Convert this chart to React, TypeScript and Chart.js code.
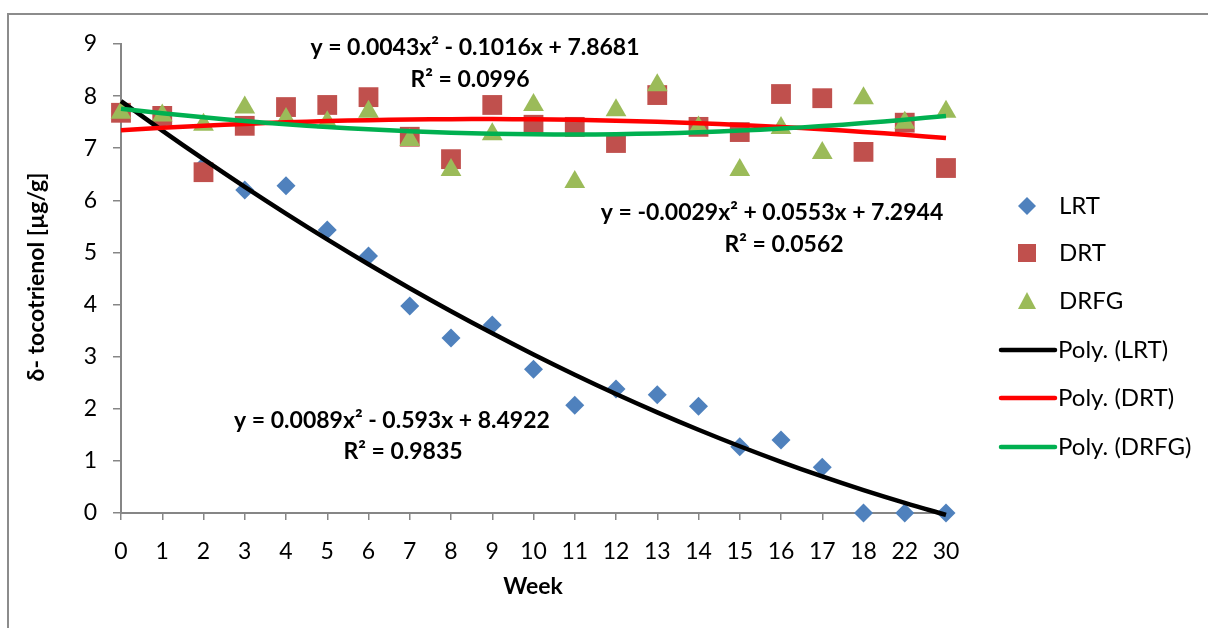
import React, { useEffect, useRef } from "react";
import { Chart, registerables } from "chart.js";

Chart.register(...registerables);

const weeks = ["0", "1", "2", "3", "4", "5", "6", "7", "8", "9", "10", "11", "12", "13", "14", "15", "16", "17", "18", "22", "30"];
const lrt = [7.7, 7.55, 6.66, 6.2, 6.28, 5.43, 4.93, 3.97, 3.36, 3.61, 2.76, 2.07, 2.38, 2.27, 2.05, 1.27, 1.4, 0.88, 0, 0, 0];
const drt = [7.68, 7.62, 6.54, 7.43, 7.79, 7.83, 7.98, 7.22, 6.79, 7.83, 7.45, 7.41, 7.1, 8.02, 7.41, 7.31, 8.04, 7.96, 6.93, 7.49, 6.62];
const drfg = [7.68, 7.63, 7.45, 7.78, 7.56, 7.5, 7.7, 7.16, 6.58, 7.27, 7.83, 6.35, 7.73, 8.21, 7.4, 6.58, 7.39, 6.91, 7.96, 7.49, 7.7];
const yTicks = [0, 1, 2, 3, 4, 5, 6, 7, 8, 9];

const seriesNames = ["LRT", "DRT", "DRFG"];
const trendNames = ["Poly. (LRT)", "Poly. (DRT)", "Poly. (DRFG)"];
const eqLabels = [
  ["y = 0.0089x² - 0.593x + 8.4922", "R² = 0.9835"],
  ["y = -0.0029x² + 0.0553x + 7.2944", "R² = 0.0562"],
  ["y = 0.0043x² - 0.1016x + 7.8681", "R² = 0.0996"],
];

const FONT = "Lato";

// Excel-style quadratic least-squares trendline (x = 1..n)
function quadFit(ys: number[]) {
  let s0 = 0, s1 = 0, s2 = 0, s3 = 0, s4 = 0, t0 = 0, t1 = 0, t2 = 0;
  ys.forEach((y, i) => {
    const x = i + 1;
    s0 += 1; s1 += x; s2 += x * x; s3 += x ** 3; s4 += x ** 4;
    t0 += y; t1 += x * y; t2 += x * x * y;
  });
  const M = [
    [s4, s3, s2, t2],
    [s3, s2, s1, t1],
    [s2, s1, s0, t0],
  ];
  for (let c = 0; c < 3; c++) {
    for (let r = c + 1; r < 3; r++) {
      const f = M[r][c] / M[c][c];
      for (let k = c; k < 4; k++) M[r][k] -= f * M[c][k];
    }
  }
  const sol = [0, 0, 0];
  for (let r = 2; r >= 0; r--) {
    let v = M[r][3];
    for (let k = r + 1; k < 3; k++) v -= M[r][k] * sol[k];
    sol[r] = v / M[r][r];
  }
  const [a, b, c] = sol;
  return ys.map((_, i) => {
    const x = i + 1;
    return { x: i, y: a * x * x + b * x + c };
  });
}

const pts = (ys: number[]) => ys.map((y, i) => ({ x: i, y }));

function drawMarker(ctx: CanvasRenderingContext2D, kind: string, x: number, y: number, color: string) {
  ctx.save();
  ctx.fillStyle = color;
  ctx.beginPath();
  if (kind === "diamond") {
    const r = 9;
    ctx.moveTo(x, y - r); ctx.lineTo(x + r, y); ctx.lineTo(x, y + r); ctx.lineTo(x - r, y);
  } else if (kind === "square") {
    const h = 9;
    ctx.rect(x - h, y - h, 2 * h, 2 * h);
  } else {
    const h = 9;
    ctx.moveTo(x, y - h); ctx.lineTo(x + h, y + h * 0.9); ctx.lineTo(x - h, y + h * 0.9);
  }
  ctx.closePath();
  ctx.fill();
  ctx.restore();
}

const overlayPlugin = {
  id: "overlay",
  beforeDraw(chart: any) {
    const ctx = chart.ctx as CanvasRenderingContext2D;
    ctx.save();
    ctx.fillStyle = "#fff";
    ctx.fillRect(0, 0, chart.width, chart.height);
    ctx.strokeStyle = "#8c8c8c";
    ctx.lineWidth = 2;
    ctx.beginPath();
    ctx.moveTo(8, 628);
    ctx.lineTo(8, 14);
    ctx.lineTo(1208, 14);
    ctx.stroke();
    ctx.restore();
  },
  afterDraw(chart: any) {
    const ctx = chart.ctx as CanvasRenderingContext2D;
    ctx.save();
    ctx.fillStyle = "#000";
    // axis titles
    ctx.font = `bold 23px ${FONT}`;
    ctx.textAlign = "center";
    ctx.textBaseline = "middle";
    ctx.fillText("Week", 533, 587);
    ctx.save();
    ctx.translate(37, 277);
    ctx.rotate(-Math.PI / 2);
    ctx.fillText("δ- tocotrienol [µg/g]", 0, 0);
    ctx.restore();

    // equation labels
    ctx.font = `bold 23px ${FONT}`;
    const eqPos = [
      [[392, 421], [403, 452]],
      [[772, 213], [784, 245]],
      [[475, 48], [470, 80]],
    ];
    eqLabels.forEach((lines, i) => {
      lines.forEach((t, j) => ctx.fillText(t, eqPos[i][j][0], eqPos[i][j][1]));
    });

    // legend
    ctx.font = `24px ${FONT}`;
    ctx.textAlign = "left";
    const ds = chart.data.datasets;
    const markerKinds = ["diamond", "square", "triangle"];
    const rows = [206, 253, 301, 350, 398, 447];
    seriesNames.forEach((n, i) => {
      drawMarker(ctx, markerKinds[i], 1027, rows[i], ds[i].backgroundColor);
      ctx.fillStyle = "#000";
      ctx.fillText(n, 1059, rows[i]);
    });
    trendNames.forEach((n, i) => {
      const y = rows[3 + i];
      ctx.strokeStyle = ds[3 + i].borderColor;
      ctx.lineWidth = 4.5;
      ctx.lineCap = "round";
      ctx.beginPath();
      ctx.moveTo(1001, y);
      ctx.lineTo(1055, y);
      ctx.stroke();
      ctx.fillStyle = "#000";
      ctx.fillText(n, 1058, y);
    });
    ctx.restore();
  },
};

export default function App() {
  const ref = useRef<HTMLCanvasElement | null>(null);
  useEffect(() => {
    if (!ref.current) return;
    const axisColor = "#868686";
    const chart = new Chart(ref.current, {
      type: "scatter",
      data: {
        datasets: [
          { label: "LRT", data: pts(lrt), backgroundColor: "#4F81BD", borderColor: "#4F81BD", pointStyle: "rectRot", pointRadius: 9.5, pointBorderWidth: 0, order: 6, clip: false },
          { label: "DRT", data: pts(drt), backgroundColor: "#C0504D", borderColor: "#C0504D", pointStyle: "rect", pointRadius: 14, pointBorderWidth: 0, order: 5, clip: false },
          { label: "DRFG", data: pts(drfg), backgroundColor: "#9BBB59", borderColor: "#9BBB59", pointStyle: "triangle", pointRadius: 12, pointBorderWidth: 0, order: 4, clip: false },
          { label: "Poly. (LRT)", data: quadFit(lrt), showLine: true, borderColor: "#000000", backgroundColor: "#000000", borderWidth: 4.5, pointRadius: 0, tension: 0.4, order: 3, clip: false },
          { label: "Poly. (DRT)", data: quadFit(drt), showLine: true, borderColor: "#FF0000", backgroundColor: "#FF0000", borderWidth: 4.5, pointRadius: 0, tension: 0.4, order: 2, clip: false },
          { label: "Poly. (DRFG)", data: quadFit(drfg), showLine: true, borderColor: "#00B050", backgroundColor: "#00B050", borderWidth: 4.5, pointRadius: 0, tension: 0.4, order: 1, clip: false },
        ],
      } as any,
      options: {
        responsive: false,
        animation: false,
        layout: { padding: { left: 0, top: 44, right: 262, bottom: 0 } },
        plugins: { legend: { display: false }, tooltip: { enabled: false } },
        scales: {
          x: {
            type: "linear",
            min: 0,
            max: weeks.length - 1,
            afterFit: (s: any) => { s.height = 115; },
            afterBuildTicks: (s: any) => { s.ticks = weeks.map((_, i) => ({ value: i })); },
            ticks: {
              stepSize: 1,
              autoSkip: false,
              maxRotation: 0,
              padding: 18,
              color: "#000",
              font: { family: FONT, size: 23 },
              callback: (v: any) => weeks[Math.round(v)] ?? "",
            },
            grid: { drawOnChartArea: false, drawTicks: true, tickLength: 7, color: axisColor, lineWidth: 1.5 },
            border: { display: true, color: axisColor, width: 2 },
          },
          y: {
            type: "linear",
            min: yTicks[0],
            max: yTicks[yTicks.length - 1],
            afterFit: (s: any) => { s.width = 121; },
            afterBuildTicks: (s: any) => { s.ticks = yTicks.map((v) => ({ value: v })); },
            ticks: {
              stepSize: 1,
              padding: 16,
              color: "#000",
              font: { family: FONT, size: 23 },
            },
            grid: { drawOnChartArea: false, drawTicks: true, tickLength: 8, color: axisColor, lineWidth: 1.5 },
            border: { display: true, color: axisColor, width: 2 },
          },
        },
      },
      plugins: [overlayPlugin],
    });
    return () => chart.destroy();
  }, []);
  return (
    <div style={{ position: "fixed", left: 0, top: 0, width: 1208, height: 628, background: "#fff" }}>
      <canvas ref={ref} width={1208} height={628} style={{ display: "block" }} />
    </div>
  );
}
